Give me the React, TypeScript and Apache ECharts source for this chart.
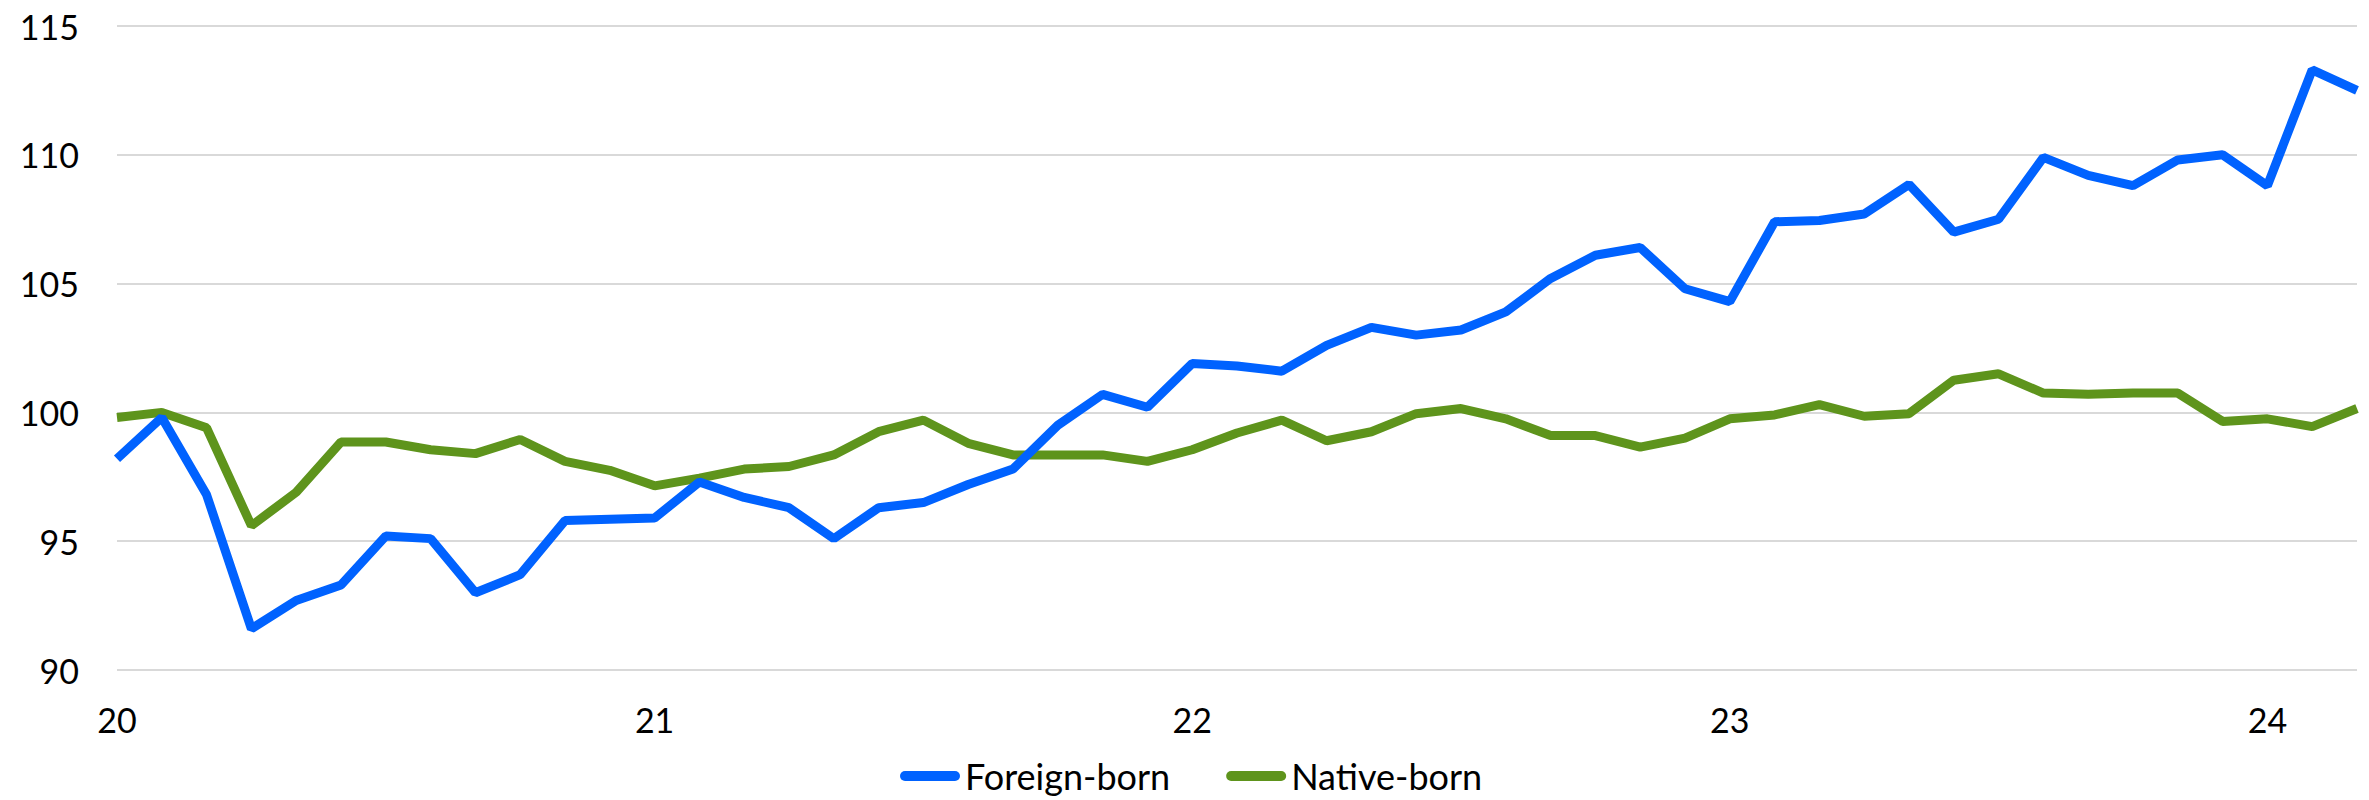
import React, { useEffect, useRef } from "react";
import * as echarts from "echarts";

const months: string[] = [
  "2020-01", "2020-02", "2020-03", "2020-04", "2020-05", "2020-06", "2020-07", "2020-08", "2020-09", "2020-10", "2020-11", "2020-12",
  "2021-01", "2021-02", "2021-03", "2021-04", "2021-05", "2021-06", "2021-07", "2021-08", "2021-09", "2021-10", "2021-11", "2021-12",
  "2022-01", "2022-02", "2022-03", "2022-04", "2022-05", "2022-06", "2022-07", "2022-08", "2022-09", "2022-10", "2022-11", "2022-12",
  "2023-01", "2023-02", "2023-03", "2023-04", "2023-05", "2023-06", "2023-07", "2023-08", "2023-09", "2023-10", "2023-11", "2023-12",
  "2024-01", "2024-02", "2024-03",
];

const tickLabels: string[] = ["20", "21", "22", "23", "24"];

const foreignBorn: number[] = [
  98.2, 99.8, 96.8, 91.6, 92.7, 93.3, 95.2, 95.1, 93.0, 93.7, 95.8, 95.85,
  95.9, 97.3, 96.7, 96.3, 95.1, 96.3, 96.5, 97.2, 97.8, 99.5, 100.7, 100.2,
  101.9, 101.8, 101.6, 102.6, 103.3, 103.0, 103.2, 103.9, 105.2, 106.1, 106.4, 104.8,
  104.3, 107.4, 107.45, 107.7, 108.85, 107.0, 107.5, 109.9, 109.2, 108.8, 109.8, 110.0,
  108.8, 113.3, 112.5,
];

const nativeBorn: number[] = [
  99.8, 100.0, 99.4, 95.6, 96.9, 98.85, 98.85, 98.55, 98.4, 98.95, 98.1, 97.75,
  97.15, 97.45, 97.8, 97.9, 98.35, 99.25, 99.7, 98.8, 98.35, 98.35, 98.35, 98.1,
  98.55, 99.2, 99.7, 98.9, 99.25, 99.95, 100.15, 99.75, 99.1, 99.1, 98.65, 99.0,
  99.75, 99.9, 100.3, 99.85, 99.95, 101.25, 101.5, 100.75, 100.7, 100.75, 100.75, 99.65,
  99.75, 99.45, 100.15,
];

const FONT = "Lato, 'Open Sans', sans-serif";
const BLUE = "#0062FF";
const GREEN = "#5E941C";
const PILL = "path://M5 0H55A5 5 0 0 1 55 10H5A5 5 0 0 1 5 0Z";

export default function App() {
  const ref = useRef<HTMLDivElement>(null);

  useEffect(() => {
    document.body.style.margin = "0";
    document.body.style.overflow = "hidden";
    if (!ref.current) return;
    const chart = echarts.init(ref.current, undefined, { renderer: "svg" });
    chart.setOption({
      animation: false,
      backgroundColor: "#ffffff",
      grid: {
        left: 117,
        right: 12,
        top: 26,
        bottom: 130,
        containLabel: false,
        outerBoundsMode: "none",
      },
      legend: {
        data: ["Foreign-born", "Native-born"],
        left: 900,
        top: 756,
        padding: 0,
        icon: PILL,
        itemWidth: 60,
        itemHeight: 10,
        itemGap: 56,
        textStyle: { fontFamily: FONT, fontSize: 36, color: "#000000", lineHeight: 40 },
      },
      xAxis: {
        type: "category",
        data: months,
        boundaryGap: false,
        axisLine: { show: false },
        axisTick: { show: false },
        splitLine: { show: false },
        axisLabel: {
          interval: (index: number) => index % 12 === 0,
          formatter: (_v: string, index: number) =>
            index % 12 === 0 ? tickLabels[index / 12] ?? "" : "",
          fontFamily: FONT,
          fontSize: 34,
          color: "#000000",
          margin: 32,
        },
      },
      yAxis: {
        type: "value",
        min: 90,
        max: 115,
        interval: 5,
        axisLine: { show: false },
        axisTick: { show: false },
        splitLine: { show: true, lineStyle: { color: "#D9D9D9", width: 2 } },
        axisLabel: {
          fontFamily: FONT,
          fontSize: 34,
          color: "#000000",
          margin: 38,
        },
      },
      series: [
        {
          name: "Foreign-born",
          type: "line",
          data: foreignBorn,
          showSymbol: false,
          symbol: "none",
          color: BLUE,
          lineStyle: { color: BLUE, width: 9 },
          itemStyle: { color: BLUE },
          z: 3,
        },
        {
          name: "Native-born",
          type: "line",
          data: nativeBorn,
          showSymbol: false,
          symbol: "none",
          color: GREEN,
          lineStyle: { color: GREEN, width: 9 },
          itemStyle: { color: GREEN },
          z: 2,
        },
      ],
    });
    return () => chart.dispose();
  }, []);

  return <div ref={ref} style={{ width: 2369, height: 800 }} />;
}
